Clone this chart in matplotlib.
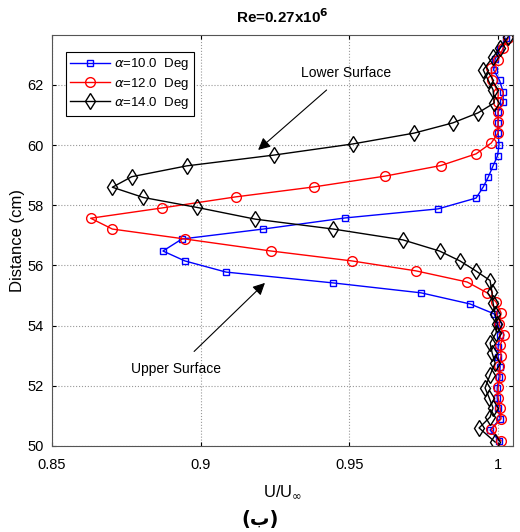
import numpy as np
import matplotlib.pyplot as plt

plt.rcParams['font.family'] = ['Liberation Sans', 'DejaVu Sans']

# Velocity profiles, listed from top of the traverse downward
y10 = [63.55, 63.2, 62.85, 62.5, 62.15, 61.77, 61.44, 61.10, 60.74, 60.41, 60.01, 59.64,
       59.31, 58.94, 58.61, 58.24, 57.88, 57.58, 57.21, 56.88, 56.48, 56.15, 55.78, 55.42,
       55.09, 54.72, 54.39, 54.02, 53.69, 53.30, 52.96, 52.63, 52.29, 51.93, 51.60, 51.26,
       50.90, 50.53, 50.17]
u10 = [1.0025, 1.0005, 0.999, 0.9985, 1.0005, 1.0017, 1.0017, 1.0, 1.0, 1.0, 1.0003, 0.9998,
       0.9983, 0.9967, 0.995, 0.9926, 0.9798, 0.9486, 0.921, 0.8937, 0.8873, 0.8947, 0.9085,
       0.9445, 0.9741, 0.9906, 0.9987, 1.0, 1.0007, 1.0, 1.0, 1.0007, 1.0003, 0.9997, 0.9997,
       1.0, 1.0007, 0.9973, 1.0003]

y12 = [63.56, 63.23, 62.83, 62.55, 62.17, 61.74, 61.44, 61.10, 60.77, 60.40, 60.07, 59.71,
       59.32, 58.97, 58.61, 58.28, 57.91, 57.57, 57.21, 56.88, 56.48, 56.15, 55.82, 55.45,
       55.09, 54.79, 54.42, 54.05, 53.69, 53.35, 53.0, 52.65, 52.3, 51.95, 51.6, 51.25,
       50.9, 50.55, 50.17]
u12 = [1.0034, 1.0017, 1.0, 0.9977, 0.998, 1.0, 1.0, 1.0, 1.0, 1.0, 0.9977, 0.9926,
       0.9807, 0.962, 0.938, 0.9118, 0.8869, 0.863, 0.8703, 0.8947, 0.9237, 0.9509, 0.9724,
       0.9896, 0.9963, 0.9993, 1.001, 1.0003, 1.002, 1.0007, 1.001, 1.0003, 1.0007, 1.0,
       1.0, 1.0007, 1.001, 0.9977, 1.001]

y14 = [63.6, 63.23, 62.93, 62.5, 62.17, 61.84, 61.4, 61.07, 60.74, 60.4, 60.04, 59.67,
       59.31, 58.95, 58.6, 58.26, 57.93, 57.54, 57.21, 56.85, 56.48, 56.15, 55.82, 55.5,
       55.13, 54.75, 54.39, 54.05, 53.75, 53.42, 53.09, 52.76, 52.36, 51.93, 51.6, 51.26,
       50.96, 50.6, 50.13]
u14 = [1.0034, 1.0007, 0.9983, 0.995, 0.9966, 0.9983, 0.9987, 0.9932, 0.9848, 0.9718,
       0.9512, 0.9247, 0.8953, 0.8768, 0.8703, 0.8807, 0.8987, 0.9183, 0.9446, 0.968,
       0.9803, 0.9872, 0.9925, 0.9973, 0.9979, 0.9983, 0.999, 0.9997, 0.9993, 0.9973,
       0.998, 0.999, 0.9973, 0.9956, 0.997, 0.9983, 0.9973, 0.9936, 0.999]

labels = [r'$\alpha$=10.0  Deg', r'$\alpha$=12.0  Deg', r'$\alpha$=14.0  Deg']
xticks = [0.85, 0.9, 0.95, 1.0]
xticklabels = ['0.85', '0.9', '0.95', '1']
yticks = [50, 52, 54, 56, 58, 60, 62]

fig = plt.figure(figsize=(5.2, 5.32), dpi=100)
ax = fig.add_axes([0.1, 0.1617, 0.8865, 0.7725])

ax.plot(u10, y10, '-s', color='#0000ff', lw=1, ms=5, mfc='none', mew=1, label=labels[0])
ax.plot(u12, y12, '-o', color='#ff0000', lw=1, ms=7, mfc='none', mew=1, label=labels[1])
ax.plot(u14, y14, '-d', color='black', lw=1, ms=8, mfc='none', mew=1, label=labels[2])

ax.set_xlim(0.85, 1.005)
ax.set_ylim(50, 63.66)
ax.set_xticks(xticks)
ax.set_xticklabels(xticklabels)
ax.set_yticks(yticks)
ax.tick_params(direction='in', top=True, right=True, labelsize=10.5, length=3)
ax.tick_params(axis='x', pad=9)
ax.tick_params(axis='y', pad=6)
ax.grid(True, linestyle=':', color='#999999', lw=0.8)
for s in ax.spines.values():
    s.set_color('#555555')

ax.set_xlabel(r'U/U$_\infty$', fontsize=12, labelpad=8)
ax.set_ylabel('Distance (cm)', fontsize=12, labelpad=2)
ax.set_title(r'Re=0.27x10$^\mathbf{6}$', fontsize=11, fontweight='bold', pad=9)

ax.annotate('Lower Surface', xy=(0.9193, 59.84), xytext=(0.9489, 62.4),
            ha='center', va='center', fontsize=10,
            arrowprops=dict(arrowstyle='-|>', color='black', lw=0.8, mutation_scale=18,
                            shrinkA=8, shrinkB=0))
ax.annotate('Upper Surface', xy=(0.9216, 55.42), xytext=(0.8917, 52.56),
            ha='center', va='center', fontsize=10,
            arrowprops=dict(arrowstyle='-|>', color='black', lw=0.8, mutation_scale=18,
                            shrinkA=8, shrinkB=0))

leg = ax.legend(loc='upper left', bbox_to_anchor=(0.03, 0.959), fontsize=9.5,
                fancybox=False, edgecolor='black', framealpha=1, handlelength=3.0,
                borderpad=0.35, labelspacing=0.25, handletextpad=0.3, borderaxespad=0)
leg.get_frame().set_linewidth(0.8)

fig.text(0.5, 0.024, '(ب)', ha='center', va='center', fontsize=14, fontweight='bold',
         family=['DejaVu Sans'])

fig.savefig('out.png', dpi=100)
